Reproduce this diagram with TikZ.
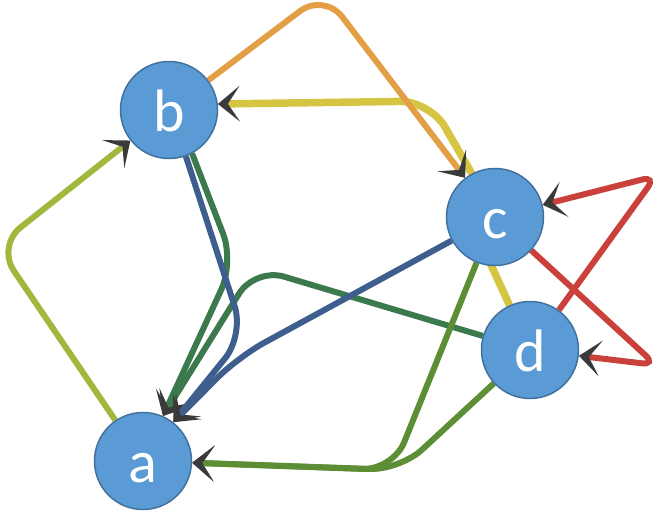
\documentclass[tikz,border=0pt]{standalone}
\usepackage{fontspec}
\setmainfont{Carlito}
\usetikzlibrary{arrows.meta,backgrounds}
\definecolor{nodefill}{HTML}{5B9BD5}
\definecolor{nodeedge}{HTML}{41719C}
\definecolor{tipgray}{HTML}{3A3A3A}
\definecolor{ygreen}{HTML}{A0B93C}
\definecolor{orangec}{HTML}{E29F45}
\definecolor{yellowc}{HTML}{D6C443}
\definecolor{redc}{HTML}{C9413A}
\definecolor{bluec}{HTML}{3E5E8E}
\definecolor{dgreen}{HTML}{3C7A4E}
\definecolor{mgreen}{HTML}{5B8E35}
\tikzset{
  vertex/.style={circle, fill=nodefill, draw=nodeedge, line width=1.5pt,
    minimum size=97pt, inner sep=0pt, text=white,
    font=\fontsize{60}{60}\selectfont, text height=43pt, text depth=0pt},
  link/.style={line width=6pt, rounded corners=30pt,
    -{Stealth[length=22pt,width=36pt,inset=12pt,line width=0pt,color=tipgray]}},
}
\begin{document}
\begin{tikzpicture}[x=1pt,y=-1pt]
\useasboundingbox (0,0) rectangle (665,515);
% vertices
\node[vertex] (b) at (169,110) {b};
\node[vertex] (c) at (495,217) {c};
\node[vertex] (d) at (530,350) {d};
\node[vertex] (a) at (143,461) {a};
% directed edges, kept underneath the vertices
\begin{scope}[on background layer]
  \draw[link, ygreen] (a) -- (-3,246) -- (b);
  \draw[link, yellowc, line width=7.5pt] (d) -- (476,232) -- (487,200) -- (430,101) -- (b.7);
  \draw[link, orangec] (b) -- (324,-7) -- (c);
  \draw[link, redc, rounded corners=14pt] (c) -- (656,365) -- (d);
  \draw[link, redc, rounded corners=14pt] (d) -- (656,176) -- (c);
  \draw[link, dgreen] (b.-62) -- (234,262) -- (a.66);
  \draw[link, dgreen] (d) -- (255,268) -- (a.66);
  \draw[link, bluec] (b.-70) -- (244,335) -- (a.52);
  \draw[link, bluec] (c) -- (238,357) -- (a.52);
  \draw[link, mgreen] (c) -- (393,470) -- (a);
  \draw[link, mgreen] (d) -- (400,470) -- (a);
\end{scope}
\end{tikzpicture}
\end{document}
